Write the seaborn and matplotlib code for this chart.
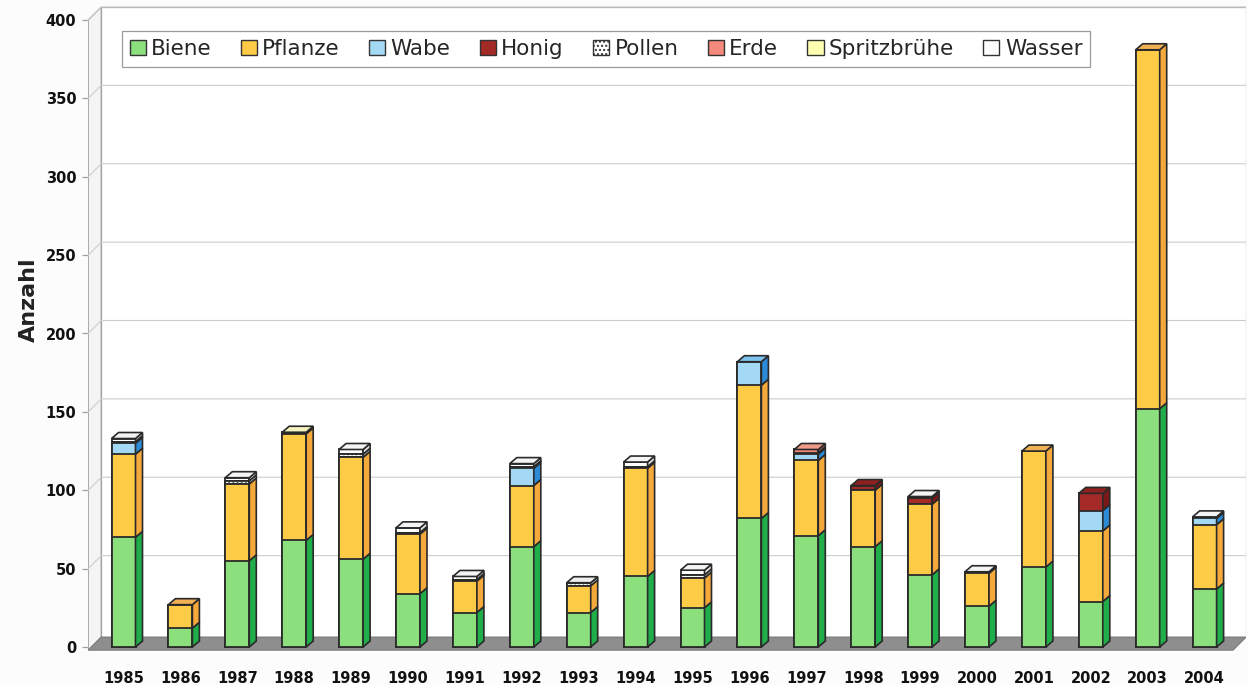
import numpy as np
import pandas as pd
import matplotlib
matplotlib.use("Agg")
import matplotlib.pyplot as plt
from matplotlib.patches import Polygon, Patch
import seaborn as sns

# ---- data ---------------------------------------------------------------
years = [str(y) for y in range(1985, 2005)]
biene       = [70, 12, 55, 68, 56, 34, 22, 64, 22, 45, 25, 82, 71, 64, 46, 26, 51, 29, 152, 37]
pflanze     = [53, 15, 49, 68, 65, 38, 20, 39, 17, 69, 19, 85, 48, 36, 45, 21, 74, 45, 229, 41]
wabe        = [7, 0, 0, 0, 0, 0, 0, 11, 0, 0, 0, 15, 4, 0, 0, 0, 0, 13, 0, 4]
honig       = [0, 0, 0, 0, 0, 0, 0, 0, 0, 0, 0, 0, 0, 3, 4, 0, 0, 11, 0, 0]
pollen      = [1, 0, 2, 0, 2, 1, 1, 1, 2, 1, 2, 0, 1, 0, 0, 0, 0, 0, 0, 0]
erde        = [0, 0, 0, 0, 0, 0, 0, 0, 0, 0, 0, 0, 2, 0, 0, 0, 0, 0, 0, 0]
spritzbruehe = [0, 0, 0, 1, 0, 0, 0, 0, 0, 0, 0, 0, 0, 0, 0, 0, 0, 0, 0, 0]
wasser      = [2, 0, 2, 0, 3, 3, 2, 2, 0, 3, 3, 0, 0, 0, 1, 1, 0, 0, 0, 1]

categories = ["Biene", "Pflanze", "Wabe", "Honig", "Pollen", "Erde", "Spritzbrühe", "Wasser"]
series = [biene, pflanze, wabe, honig, pollen, erde, spritzbruehe, wasser]
y_ticks = list(range(0, 401, 50))

front = {"Biene": "#8be07d", "Pflanze": "#fecb47", "Wabe": "#a3d9f5", "Honig": "#a32a26",
         "Pollen": "#ffffff", "Erde": "#f38a7c", "Spritzbrühe": "#ffffb0", "Wasser": "#ffffff"}
side = {"Biene": "#1fae4a", "Pflanze": "#f6a93b", "Wabe": "#2b8bd6", "Honig": "#7a1717",
        "Pollen": "#d0d0d0", "Erde": "#e06a5a", "Spritzbrühe": "#ecea9a", "Wasser": "#e4e4e4"}
top = {"Biene": "#55c95e", "Pflanze": "#f0b054", "Wabe": "#7cc4ee", "Honig": "#8e2020",
       "Pollen": "#eeeeee", "Erde": "#f09a8a", "Spritzbrühe": "#f6f2c0", "Wasser": "#f4f4f4"}
hatches = {"Pollen": "...."}
edge = "#2a2a2a"

df = pd.DataFrame({"Jahr": years, **dict(zip(categories, series))})
cum = df[categories].cumsum(axis=1)

# ---- figure / axes geometry (pixels) ------------------------------------
sns.set_theme(style="white")
plt.rcParams["font.family"] = ["DejaVu Sans"]

W, H = 1248, 685
fig = plt.figure(figsize=(W / 100, H / 100), dpi=100, facecolor="#fcfcfc")

x_px0, x_step = 123.5, 56.9      # front centre of first column, column pitch
y_px0, y_scale = 647.0, 1.5675   # baseline and pixels per unit
xlim = (-0.62, 19.72)
ylim = (-12, 411)
left_px = x_px0 + xlim[0] * x_step
right_px = x_px0 + xlim[1] * x_step
bottom_px = y_px0 - ylim[0] * y_scale
top_px = y_px0 - ylim[1] * y_scale
ax = fig.add_axes([left_px / W, 1 - bottom_px / H, (right_px - left_px) / W, (bottom_px - top_px) / H])
ax.set_facecolor("none")

# depth of walls / floor and of the columns
wdx, wdy = 13 / x_step, 13 / y_scale
bdx, bdy = 7 / x_step, 6 / y_scale
bw = 24 / x_step
x_front_right = 19.5
floor_y = -2

# floor
ax.add_patch(Polygon([(xlim[0], floor_y), (x_front_right, floor_y),
                      (x_front_right + wdx, floor_y + wdy), (xlim[0] + wdx, floor_y + wdy)],
                     closed=True, facecolor="#8e8e8e", edgecolor="#7a7a7a", lw=0.8, zorder=1))
# back wall
ax.add_patch(Polygon([(xlim[0] + wdx, floor_y + wdy), (x_front_right + wdx, floor_y + wdy),
                      (x_front_right + wdx, 400 + wdy), (xlim[0] + wdx, 400 + wdy)],
                     closed=True, facecolor="white", edgecolor="#a0a0a0", lw=0.9, zorder=0.5))
# left wall
ax.add_patch(Polygon([(xlim[0], floor_y), (xlim[0] + wdx, floor_y + wdy),
                      (xlim[0] + wdx, 400 + wdy), (xlim[0], 400)],
                     closed=True, facecolor="#f4f4f4", edgecolor="#a0a0a0", lw=0.9, zorder=0.6))
# gridlines on the walls
for v in y_ticks[1:]:
    ax.plot([xlim[0], xlim[0] + wdx, x_front_right + wdx], [v, v + wdy, v + wdy],
            color="#cdcdcd", lw=0.8, zorder=0.8)

# ---- stacked columns: front faces via seaborn ---------------------------
for cat in reversed(categories):
    sns.barplot(x=df["Jahr"], y=cum[cat], order=years, color=front[cat], saturation=1,
                width=bw, edgecolor=edge, linewidth=1.3, errorbar=None,
                hatch=hatches.get(cat), ax=ax, zorder=3)

# side and top faces for the 3-D look
for i, yr in enumerate(years):
    base = 0
    last = None
    for cat, vals in zip(categories, series):
        v = vals[i]
        if v <= 0:
            continue
        xr = i + bw / 2
        ax.add_patch(Polygon([(xr, base), (xr + bdx, base + bdy), (xr + bdx, base + v + bdy), (xr, base + v)],
                             closed=True, facecolor=side[cat], edgecolor=edge, lw=1.2, zorder=3.2))
        base += v
        last = cat
    xl = i - bw / 2
    xr = i + bw / 2
    ax.add_patch(Polygon([(xl, base), (xl + bdx, base + bdy), (xr + bdx, base + bdy), (xr, base)],
                         closed=True, facecolor=top[last], edgecolor=edge, lw=1.2, zorder=3.3))

# ---- axes styling --------------------------------------------------------
ax.set_xlim(*xlim)
ax.set_ylim(*ylim)
for s in ax.spines.values():
    s.set_visible(False)
ax.set_yticks(y_ticks)
ax.set_yticklabels([str(t) for t in y_ticks])
ax.tick_params(axis="y", length=4.5, width=0.9, color="#a0a0a0", pad=4, left=True)
ax.tick_params(axis="x", length=0, pad=4)
for lab in ax.get_yticklabels() + ax.get_xticklabels():
    lab.set_fontweight("bold")
    lab.set_fontsize(10.5)
    lab.set_color("#111111")

ax.set_xlabel("")
ax.set_ylabel("Anzahl", fontsize=16, fontweight="bold", color="#222222")
ax.yaxis.set_label_coords((39 - left_px) / (right_px - left_px), (bottom_px - 300) / (bottom_px - top_px))

# legend
handles = [Patch(facecolor=front[c], edgecolor="#333333", hatch=hatches.get(c), lw=1.0) for c in categories]
leg = ax.legend(handles, categories, loc="center", ncol=8, mode="expand",
                bbox_to_anchor=(122 / W, 1 - 68 / H, (1090 - 122) / W, 38 / H),
                bbox_transform=fig.transFigure, frameon=True, fancybox=False,
                edgecolor="#9a9a9a", facecolor="white", framealpha=1, borderaxespad=0,
                handlelength=0.75, handleheight=0.75, handletextpad=0.25, borderpad=0.35,
                columnspacing=0.6, prop={"family": "DejaVu Sans", "size": 15.5})
leg.get_frame().set_linewidth(0.9)
leg.set_zorder(5)

fig.savefig("out.png", dpi=100, facecolor=fig.get_facecolor())
